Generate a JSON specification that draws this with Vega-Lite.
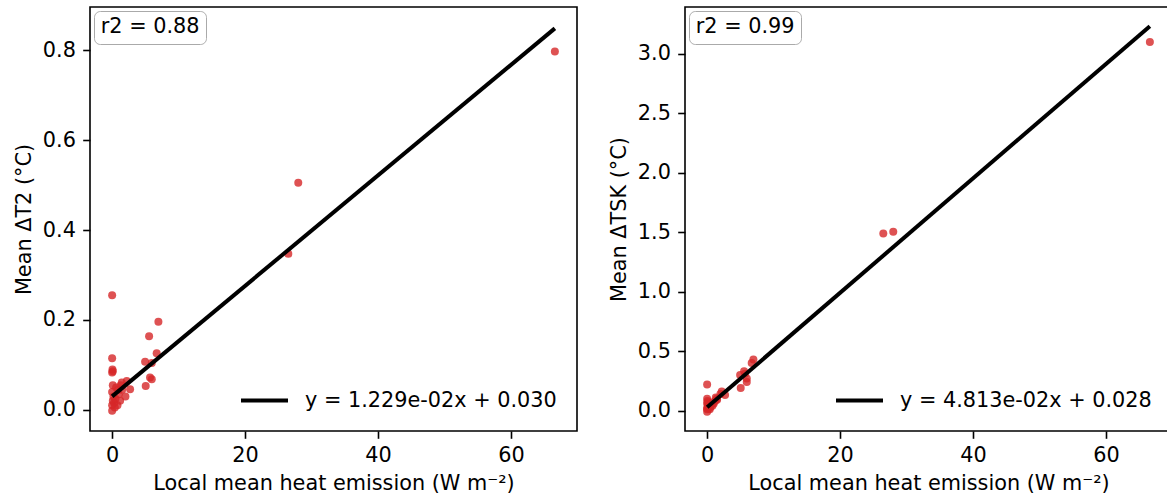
{
  "$schema": "https://vega.github.io/schema/vega-lite/v6.json",
  "padding": {"left": 12, "top": 6, "right": 0, "bottom": 0},
  "background": "white",
  "config": {
    "font": "DejaVu Sans",
    "view": {"stroke": "black", "strokeWidth": 1.6},
    "axis": {
      "grid": false, "domain": false, "tickColor": "black", "tickSize": 7.3, "tickWidth": 1.6,
      "labelFontSize": 20.8, "labelColor": "black", "titleFontSize": 20.8, "titleColor": "black",
      "titleFontWeight": "normal", "labelPadding": 7.3, "titlePadding": 8.3
    },
    "legend": {"labelFontSize": 20.8, "labelColor": "black", "labelLimit": 500}
  },
  "datasets": {
    "t2": [
      {"x": 0.0, "y": 0.255}, {"x": 0.0, "y": 0.115}, {"x": 0.05, "y": 0.09}, {"x": 0.0, "y": 0.083},
      {"x": 0.1, "y": 0.086}, {"x": 0.0, "y": -0.002}, {"x": 0.0, "y": 0.01}, {"x": 0.1, "y": 0.02},
      {"x": 0.2, "y": 0.03}, {"x": 0.0, "y": 0.04}, {"x": 0.3, "y": 0.015}, {"x": 0.5, "y": 0.025},
      {"x": 0.6, "y": 0.05}, {"x": 0.1, "y": 0.055}, {"x": 0.8, "y": 0.01}, {"x": 1.0, "y": 0.035},
      {"x": 1.2, "y": 0.02}, {"x": 1.3, "y": 0.055}, {"x": 1.5, "y": 0.045}, {"x": 0.4, "y": 0.005},
      {"x": 0.9, "y": 0.045}, {"x": 1.45, "y": 0.061}, {"x": 2.2, "y": 0.064}, {"x": 2.7, "y": 0.046},
      {"x": 2.0, "y": 0.03}, {"x": 5.05, "y": 0.053}, {"x": 5.7, "y": 0.072}, {"x": 5.96, "y": 0.068},
      {"x": 4.96, "y": 0.107}, {"x": 5.96, "y": 0.104}, {"x": 6.7, "y": 0.126}, {"x": 5.56, "y": 0.164},
      {"x": 6.96, "y": 0.196}, {"x": 26.5, "y": 0.347}, {"x": 28.0, "y": 0.505}, {"x": 66.6, "y": 0.797}
    ],
    "tsk": [
      {"x": 0.0, "y": 0.22}, {"x": 0.0, "y": 0.1}, {"x": 0.05, "y": 0.08}, {"x": 0.0, "y": 0.06},
      {"x": 0.1, "y": 0.07}, {"x": 0.0, "y": -0.01}, {"x": 0.0, "y": 0.01}, {"x": 0.1, "y": 0.03},
      {"x": 0.2, "y": 0.04}, {"x": 0.0, "y": 0.02}, {"x": 0.3, "y": 0.02}, {"x": 0.5, "y": 0.03},
      {"x": 0.6, "y": 0.05}, {"x": 0.1, "y": 0.05}, {"x": 0.8, "y": 0.04}, {"x": 1.0, "y": 0.06},
      {"x": 1.2, "y": 0.08}, {"x": 1.3, "y": 0.11}, {"x": 1.5, "y": 0.09}, {"x": 0.4, "y": 0.01},
      {"x": 0.9, "y": 0.07}, {"x": 1.45, "y": 0.1}, {"x": 2.2, "y": 0.16}, {"x": 2.7, "y": 0.13},
      {"x": 2.0, "y": 0.14}, {"x": 5.05, "y": 0.19}, {"x": 5.7, "y": 0.31}, {"x": 5.96, "y": 0.27},
      {"x": 4.96, "y": 0.3}, {"x": 5.96, "y": 0.24}, {"x": 6.7, "y": 0.4}, {"x": 5.56, "y": 0.33},
      {"x": 6.96, "y": 0.43}, {"x": 26.5, "y": 1.49}, {"x": 28.0, "y": 1.505}, {"x": 66.6, "y": 3.1}
    ],
    "fit_t2": [{"x": 0.0, "y": 0.03}, {"x": 66.6, "y": 0.8485}],
    "fit_tsk": [{"x": 0.0, "y": 0.028}, {"x": 66.6, "y": 3.2334}]
  },
  "bounds": "flush",
  "spacing": 108,
  "resolve": {
    "scale": {"shape": "independent", "stroke": "independent", "y": "independent"},
    "legend": {"shape": "independent", "stroke": "independent"}
  },
  "hconcat": [
    {
      "width": 487, "height": 424,
      "layer": [
        {
          "data": {"name": "t2"},
          "mark": {"type": "point", "filled": true, "color": "#d62728", "opacity": 0.8, "size": 64},
          "encoding": {
            "x": {"field": "x", "type": "quantitative", "scale": {"domain": [-3.33, 69.93], "nice": false, "zero": false},
                  "axis": {"values": [0, 20, 40, 60], "title": "Local mean heat emission (W m⁻²)"}},
            "y": {"field": "y", "type": "quantitative", "scale": {"domain": [-0.047, 0.896], "nice": false, "zero": false},
                  "axis": {"values": [0, 0.2, 0.4, 0.6, 0.8], "format": ".1f", "title": "Mean ΔT2 (°C)"}},
            "shape": {"datum": "r2 = 0.88", "scale": {"range": ["circle"]},
                      "legend": {"title": null, "orient": "top-left", "offset": 4, "symbolSize": 0, "symbolOpacity": 0, "labelOffset": -20,
                                 "padding": 6, "cornerRadius": 6, "fillColor": "white", "strokeColor": "#aaaaaa"}}
          }
        },
        {
          "data": {"name": "fit_t2"},
          "mark": {"type": "line", "strokeWidth": 4},
          "encoding": {
            "x": {"field": "x", "type": "quantitative"},
            "y": {"field": "y", "type": "quantitative"},
            "stroke": {"datum": "y = 1.229e-02x + 0.030", "scale": {"range": ["black"]},
                       "legend": {"title": null, "orient": "bottom-right", "offset": 20, "symbolType": "stroke", "symbolSize": 2209,
                                  "symbolStrokeWidth": 4, "labelOffset": 15}}
          }
        }
      ]
    },
    {
      "width": 487, "height": 424,
      "layer": [
        {
          "data": {"name": "tsk"},
          "mark": {"type": "point", "filled": true, "color": "#d62728", "opacity": 0.8, "size": 64},
          "encoding": {
            "x": {"field": "x", "type": "quantitative", "scale": {"domain": [-3.33, 69.93], "nice": false, "zero": false},
                  "axis": {"values": [0, 20, 40, 60], "title": "Local mean heat emission (W m⁻²)"}},
            "y": {"field": "y", "type": "quantitative", "scale": {"domain": [-0.172, 3.395], "nice": false, "zero": false},
                  "axis": {"values": [0, 0.5, 1, 1.5, 2, 2.5, 3], "format": ".1f", "title": "Mean ΔTSK (°C)"}},
            "shape": {"datum": "r2 = 0.99", "scale": {"range": ["circle"]},
                      "legend": {"title": null, "orient": "top-left", "offset": 4, "symbolSize": 0, "symbolOpacity": 0, "labelOffset": -20,
                                 "padding": 6, "cornerRadius": 6, "fillColor": "white", "strokeColor": "#aaaaaa"}}
          }
        },
        {
          "data": {"name": "fit_tsk"},
          "mark": {"type": "line", "strokeWidth": 4},
          "encoding": {
            "x": {"field": "x", "type": "quantitative"},
            "y": {"field": "y", "type": "quantitative"},
            "stroke": {"datum": "y = 4.813e-02x + 0.028", "scale": {"range": ["black"]},
                       "legend": {"title": null, "orient": "bottom-right", "offset": 20, "symbolType": "stroke", "symbolSize": 2209,
                                  "symbolStrokeWidth": 4, "labelOffset": 15}}
          }
        }
      ]
    }
  ]
}
